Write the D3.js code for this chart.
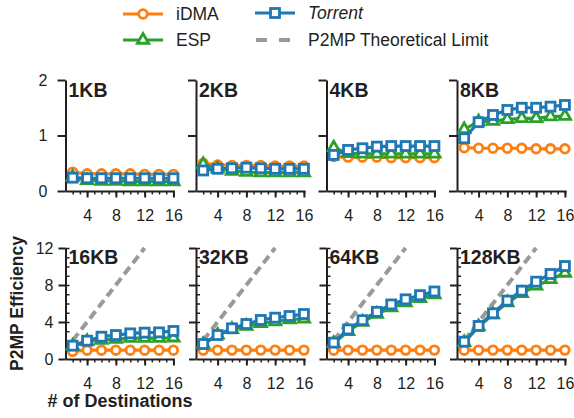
<!DOCTYPE html>
<html>
<head>
<meta charset="utf-8">
<script src="https://cdn.jsdelivr.net/npm/d3@7"></script>
<style>
  body { margin: 0; background: #fff; }
  svg { font-family: "Liberation Sans", Arial, Helvetica, sans-serif; }
  .axis path, .axis line { stroke: #231f20; }
  .axis text { font-size: 16px; fill: #231f20; }
</style>
</head>
<body>
<svg width="574" height="418"></svg>
<script>
// message sizes, one panel each
var sizes = ["1KB", "2KB", "4KB", "8KB", "16KB", "32KB", "64KB", "128KB"];
var dests = [2, 4, 6, 8, 10, 12, 14, 16];

// P2MP efficiency per panel
var idma = [
  [0.34, 0.31, 0.31, 0.31, 0.31, 0.30, 0.30, 0.30],
  [0.50, 0.47, 0.46, 0.46, 0.46, 0.45, 0.45, 0.45],
  [0.62, 0.61, 0.61, 0.61, 0.60, 0.60, 0.60, 0.60],
  [0.78, 0.77, 0.77, 0.77, 0.77, 0.76, 0.76, 0.76],
  [0.82, 0.95, 0.95, 0.95, 0.95, 0.95, 0.95, 0.95],
  [0.95, 0.96, 0.96, 0.96, 0.96, 0.96, 0.96, 0.96],
  [0.95, 0.96, 0.96, 0.96, 0.96, 0.96, 0.96, 0.96],
  [0.95, 0.96, 0.96, 0.96, 0.96, 0.96, 0.96, 0.96]
];
var esp = [
  [0.25, 0.19, 0.18, 0.18, 0.17, 0.17, 0.17, 0.17],
  [0.48, 0.40, 0.36, 0.34, 0.33, 0.33, 0.33, 0.33],
  [0.78, 0.68, 0.67, 0.67, 0.67, 0.67, 0.67, 0.67],
  [1.11, 1.25, 1.26, 1.29, 1.31, 1.31, 1.34, 1.35],
  [1.40, 1.90, 2.05, 2.15, 2.25, 2.25, 2.25, 2.30],
  [1.60, 2.60, 3.20, 3.55, 3.85, 4.05, 4.25, 4.35],
  [1.70, 3.00, 4.00, 4.85, 5.55, 6.10, 6.55, 6.95],
  [1.80, 3.50, 4.80, 6.10, 7.10, 7.90, 8.60, 9.30]
];
var torrent = [
  [0.24, 0.23, 0.23, 0.23, 0.23, 0.23, 0.23, 0.23],
  [0.37, 0.40, 0.41, 0.42, 0.41, 0.40, 0.40, 0.40],
  [0.65, 0.74, 0.77, 0.80, 0.81, 0.81, 0.81, 0.81],
  [0.95, 1.24, 1.37, 1.46, 1.50, 1.50, 1.52, 1.55],
  [1.44, 1.98, 2.41, 2.59, 2.77, 2.85, 2.88, 3.03],
  [1.62, 2.59, 3.32, 3.78, 4.22, 4.47, 4.65, 4.86],
  [1.77, 3.20, 4.20, 5.10, 5.90, 6.45, 6.90, 7.30],
  [1.87, 3.57, 4.94, 6.31, 7.39, 8.36, 9.19, 10.05]
];
// theoretical limit = number of destinations
var limitX = [2, 12];
var limitY = [2, 12];

var xMajor = [4, 8, 12, 16];
var xMinor = d3.range(2, 17);
var yTopTicks = [0, 1, 2];
var yBotTicks = [0, 4, 8, 12];
var yBotMinor = d3.range(1, 13);

var colors = { idma: "#ff7f0e", esp: "#2ca02c", torrent: "#1f77b4", limit: "#9a9a9a" };

var svg = d3.select("svg");

var panelLeft = [65.5, 196, 326.5, 457];
var rowTop = [80, 248];
var plotH = 111;

var x = d3.scaleLinear().domain([1, 16.15]).range([0, 109]);
var yTop = d3.scaleLinear().domain([0, 2]).range([plotH, 0]);
var yBot = d3.scaleLinear().domain([0, 12]).range([plotH, 0]);

function tri(size) {
  return d3.symbol().type(d3.symbolTriangle).size(size)();
}

sizes.forEach(function(name, i) {
  var row = i < 4 ? 0 : 1;
  var col = i % 4;
  var y = row == 0 ? yTop : yBot;
  var g = svg.append("g")
    .attr("transform", "translate(" + panelLeft[col] + "," + rowTop[row] + ")");

  // x axis: minor ticks then major ticks with labels
  g.append("g")
    .attr("class", "axis")
    .attr("transform", "translate(0," + plotH + ")")
    .call(d3.axisBottom(x).tickValues(xMinor).tickSize(3.5).tickSizeOuter(0).tickFormat(""))
    .call(function(a) { a.select(".domain").remove(); })
    .selectAll("line").attr("stroke-width", 1.5);
  var xa = g.append("g")
    .attr("class", "axis")
    .attr("transform", "translate(0," + plotH + ")")
    .call(d3.axisBottom(x).tickValues(xMajor).tickSize(6.5).tickPadding(12.5).tickSizeOuter(0));
  xa.select(".domain").attr("stroke-width", 2);
  xa.selectAll("line").attr("stroke-width", 2);

  // y axis
  if (row == 0) {
    var ya = g.append("g")
      .attr("class", "axis")
      .call(d3.axisLeft(y).tickValues(yTopTicks).tickFormat(d3.format("d"))
        .tickSize(8).tickPadding(10).tickSizeOuter(0));
    ya.select(".domain").attr("stroke-width", 2);
    ya.selectAll("line").attr("stroke-width", 2);
    if (col != 0) ya.selectAll("text").remove();
  } else {
    g.append("g")
      .attr("class", "axis")
      .call(d3.axisLeft(y).tickValues(yBotMinor).tickSize(-4).tickSizeOuter(0).tickFormat(""))
      .call(function(a) { a.select(".domain").remove(); })
      .selectAll("line").attr("stroke-width", 1.5);
    var yb = g.append("g")
      .attr("class", "axis")
      .call(d3.axisLeft(y).tickValues(yBotTicks).tickSize(7).tickPadding(5).tickSizeOuter(0));
    yb.select(".domain").attr("stroke-width", 2);
    yb.selectAll("line").attr("stroke-width", 2);
    if (col != 0) yb.selectAll("text").remove();

    // theoretical limit
    g.append("line")
      .attr("x1", x(limitX[0])).attr("y1", y(limitY[0]))
      .attr("x2", x(limitX[1])).attr("y2", y(limitY[1]))
      .attr("stroke", colors.limit)
      .attr("stroke-width", 4)
      .attr("stroke-dasharray", "9,5");
  }

  var line = d3.line()
    .x(function(d, k) { return x(dests[k]); })
    .y(function(d) { return y(d); });

  // iDMA
  g.append("path").datum(idma[i])
    .attr("d", line).attr("fill", "none")
    .attr("stroke", colors.idma).attr("stroke-width", 3.2);
  g.selectAll(".c").data(idma[i]).enter().append("circle")
    .attr("cx", function(d, k) { return x(dests[k]); })
    .attr("cy", function(d) { return y(d); })
    .attr("r", 4.3)
    .attr("fill", "#fff").attr("stroke", colors.idma).attr("stroke-width", 2.8);

  // ESP
  g.append("path").datum(esp[i])
    .attr("d", line).attr("fill", "none")
    .attr("stroke", colors.esp).attr("stroke-width", 3.2);
  g.selectAll(".t").data(esp[i]).enter().append("path")
    .attr("d", tri(55))
    .attr("transform", function(d, k) { return "translate(" + x(dests[k]) + "," + y(d) + ")"; })
    .attr("fill", "#fff").attr("stroke", colors.esp).attr("stroke-width", 2.8);

  // Torrent
  g.append("path").datum(torrent[i])
    .attr("d", line).attr("fill", "none")
    .attr("stroke", colors.torrent).attr("stroke-width", 3.2);
  g.selectAll(".s").data(torrent[i]).enter().append("rect")
    .attr("x", function(d, k) { return x(dests[k]) - 4.5; })
    .attr("y", function(d) { return y(d) - 4.5; })
    .attr("width", 9).attr("height", 9)
    .attr("fill", "#fff").attr("stroke", colors.torrent).attr("stroke-width", 2.8);

  // panel title
  g.append("text")
    .attr("x", 3)
    .attr("y", row == 0 ? 17 : 16)
    .attr("font-size", "19.5px")
    .attr("font-weight", "bold")
    .attr("fill", "#231f20")
    .text(name);
});

// axis titles
svg.append("text")
  .attr("transform", "translate(23," + (rowTop[1] + plotH / 2) + ") rotate(-90)")
  .attr("text-anchor", "middle")
  .attr("font-size", "17.5px")
  .attr("font-weight", "bold")
  .attr("fill", "#231f20")
  .text("P2MP Efficiency");

svg.append("text")
  .attr("x", 120)
  .attr("y", 407)
  .attr("text-anchor", "middle")
  .attr("font-size", "18px")
  .attr("font-weight", "bold")
  .attr("fill", "#231f20")
  .text("# of Destinations");

// legend
var legend = svg.append("g");
var items = [
  { label: "iDMA", key: "idma", x: 123, y: 14, italic: false },
  { label: "ESP", key: "esp", x: 123, y: 40, italic: false },
  { label: "Torrent", key: "torrent", x: 255, y: 13, italic: true },
  { label: "P2MP Theoretical Limit", key: "limit", x: 255, y: 40, italic: false }
];
items.forEach(function(it) {
  var lg = legend.append("g").attr("transform", "translate(" + it.x + "," + it.y + ")");
  if (it.key == "limit") {
    lg.append("line").attr("x1", 1).attr("x2", 36).attr("y1", 0).attr("y2", 0)
      .attr("stroke", colors.limit).attr("stroke-width", 4).attr("stroke-dasharray", "11,12");
  } else {
    lg.append("line").attr("x1", 0).attr("x2", 40).attr("y1", 0).attr("y2", 0)
      .attr("stroke", colors[it.key]).attr("stroke-width", 3.2);
    if (it.key == "idma") {
      lg.append("circle").attr("cx", 20).attr("cy", 0).attr("r", 4.3)
        .attr("fill", "#fff").attr("stroke", colors.idma).attr("stroke-width", 2.8);
    } else if (it.key == "esp") {
      lg.append("path").attr("d", tri(55)).attr("transform", "translate(20,0)")
        .attr("fill", "#fff").attr("stroke", colors.esp).attr("stroke-width", 2.8);
    } else {
      lg.append("rect").attr("x", 15.5).attr("y", -4.5).attr("width", 9).attr("height", 9)
        .attr("fill", "#fff").attr("stroke", colors.torrent).attr("stroke-width", 2.8);
    }
  }
  lg.append("text")
    .attr("x", 53)
    .attr("y", 0)
    .attr("dy", "0.35em")
    .attr("font-size", "17.5px")
    .attr("font-style", it.italic ? "italic" : "normal")
    .attr("fill", "#231f20")
    .text(it.label);
});
</script>
</body>
</html>
